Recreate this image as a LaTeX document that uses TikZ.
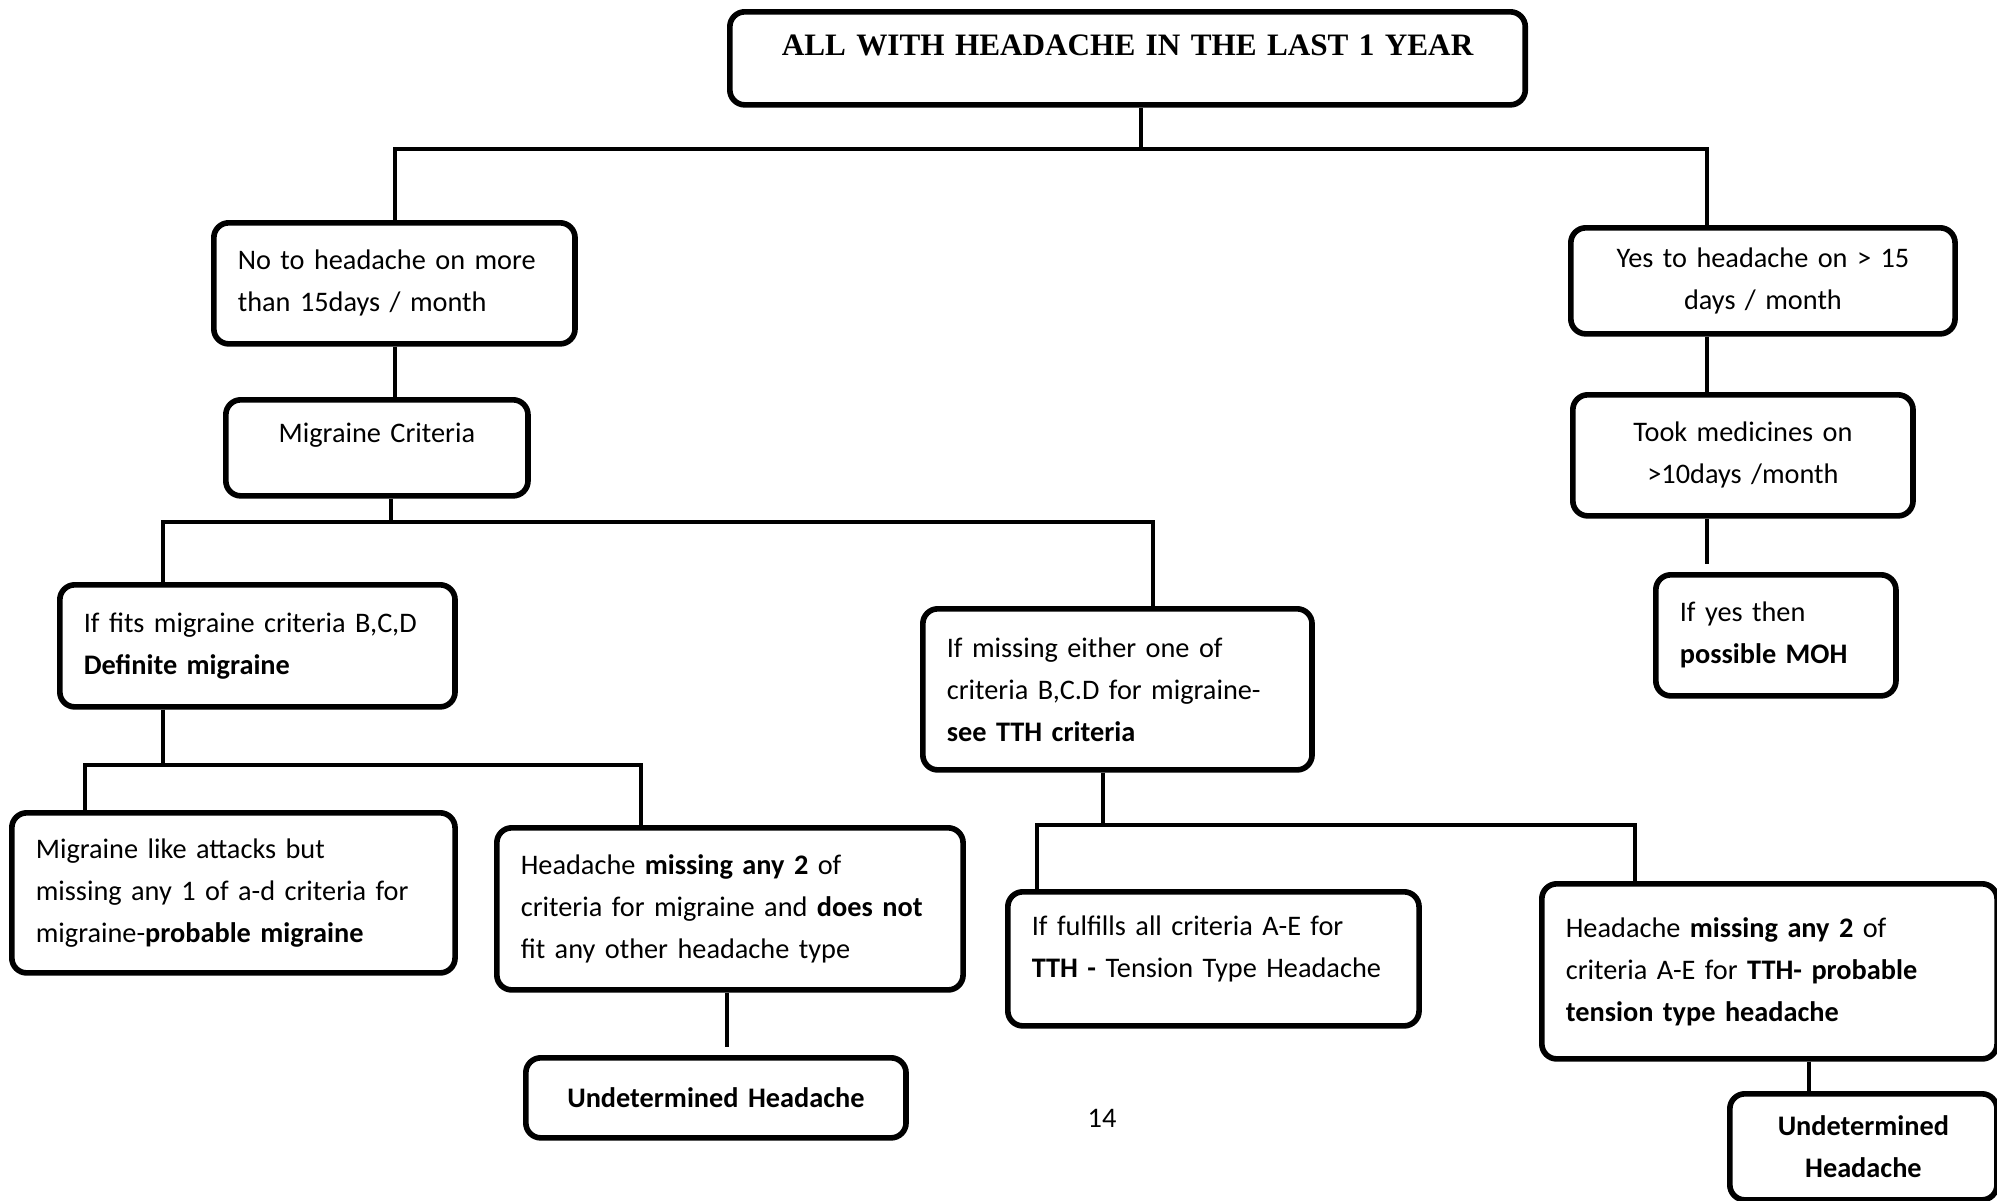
\documentclass[tikz,border=0pt]{standalone}
\usepackage{fontspec}
\setmainfont{Carlito}
\newfontfamily\titlefont{Liberation Serif}
\usetikzlibrary{positioning}

\begin{document}
\begin{tikzpicture}[x=0.01cm, y=-0.01cm,
            box/.style={draw=black, line width=1.6pt, rounded corners=0.15cm, anchor=north west, inner xsep=0.24cm, inner ysep=0pt, font=\fontsize{8.05}{11.95}\selectfont},
            lbox/.style={box, align=left},
            cbox/.style={box, align=center},
            conn/.style={draw=black, line width=1.4pt}
        ]
            \useasboundingbox (0,0) rectangle (1997,1200);

            % Top
            \node[cbox, text width=7.47cm, minimum height=0.93cm, text depth=0.26cm, font=\titlefont\bfseries\fontsize{8.87}{11}\selectfont] (title) at (727,9) {ALL WITH HEADACHE IN THE LAST 1 YEAR};

            % Left branch
            \node[lbox, text width=3.13cm, minimum height=1.21cm] (nohd) at (211,220) {No to headache on more\\than 15days / month};
            \node[cbox, text width=2.54cm, minimum height=0.96cm, text depth=0.3cm] (migcrit) at (223,397) {Migraine Criteria};
            \node[lbox, text width=3.47cm, minimum height=1.22cm] (fits) at (57,582) {If fits migraine criteria B,C,D\\\textbf{Definite migraine}};
            \node[lbox, text width=3.95cm, minimum height=1.60cm] (probmig) at (9,810) {Migraine like attacks but\\missing any 1 of a-d criteria for\\migraine-\textbf{probable migraine}};
            \node[lbox, text width=4.18cm, minimum height=1.62cm] (miss2) at (494,825) {Headache \textbf{missing any 2} of\\criteria for migraine and \textbf{does not}\\fit any other headache type};
            \node[cbox, text width=3.32cm, minimum height=0.80cm] (undet1) at (523,1055) {\textbf{Undetermined Headache}};

            % Middle branch
            \node[lbox, text width=3.41cm, minimum height=1.61cm] (missone) at (920,606) {If missing either one of\\criteria B,C.D for migraine-\\\textbf{see TTH criteria}};
            \node[lbox, text width=3.63cm, minimum height=1.34cm, text depth=0.66cm] (tthall) at (1005,889) {If fulfills all criteria A-E for\\\textbf{TTH -} Tension Type Headache};
            \node[lbox, text width=4.07cm, minimum height=1.75cm] (tthprob) at (1539,881) {Headache \textbf{missing any 2} of\\criteria A-E for \textbf{TTH- probable}\\\textbf{tension type headache}};
            \node[cbox, text width=2.19cm, minimum height=1.06cm] (undet2) at (1727,1091) {\textbf{Undetermined}\\\textbf{Headache}};

            % Right branch
            \node[cbox, text width=3.36cm, minimum height=1.06cm] (yes) at (1568,225) {Yes to headache on > 15\\days / month};
            \node[cbox, text width=2.92cm, minimum height=1.21cm] (took) at (1570,392) {Took medicines on\\>10days /month};
            \node[lbox, text width=1.92cm, minimum height=1.21cm] (moh) at (1653,572) {If yes then\\\textbf{possible MOH}};

            \node[font=\fontsize{8.05}{10}\selectfont] (pagenum) at (1102,1118) {14};

            % Junctions
            \coordinate (j1) at (1141,149);
            \coordinate (j1l) at (395,149);
            \coordinate (j1r) at (1707,149);
            \coordinate (j2) at (391,522);
            \coordinate (j2l) at (163,522);
            \coordinate (j2r) at (1153,522);
            \coordinate (j3) at (163,765);
            \coordinate (j3l) at (85,765);
            \coordinate (j3r) at (641,765);
            \coordinate (j4) at (1103,825);
            \coordinate (j4l) at (1037,825);
            \coordinate (j4r) at (1635,825);
            \coordinate (j5) at (727,1000);
            \coordinate (j6) at (1809,1070);

            % Connectors
            \draw[conn] (title.south -| j1) -- (j1);
            \draw[conn] (nohd.north -| j1l) -- (j1l) -- (j1r) -- (yes.north -| j1r);
            \draw[conn] (nohd.south -| j1l) -- (migcrit.north -| j1l);
            \draw[conn] (yes.south -| j1r) -- (took.north -| j1r);
            \draw[conn, shorten >=0.08cm] (took.south -| j1r) -- (moh.north -| j1r);

            \draw[conn] (migcrit.south -| j2) -- (j2);
            \draw[conn] (fits.north -| j2l) -- (j2l) -- (j2r) -- (missone.north -| j2r);

            \draw[conn] (fits.south -| j3) -- (j3);
            \draw[conn] (probmig.north -| j3l) -- (j3l) -- (j3r) -- (miss2.north -| j3r);
            \draw[conn, shorten >=0.08cm] (miss2.south -| j5) -- (undet1.north -| j5);

            \draw[conn] (missone.south -| j4) -- (j4);
            \draw[conn] (tthall.north -| j4l) -- (j4l) -- (j4r) -- (tthprob.north -| j4r);
            \draw[conn] (tthprob.south -| j6) -- (undet2.north -| j6);

        \end{tikzpicture}
\end{document}
